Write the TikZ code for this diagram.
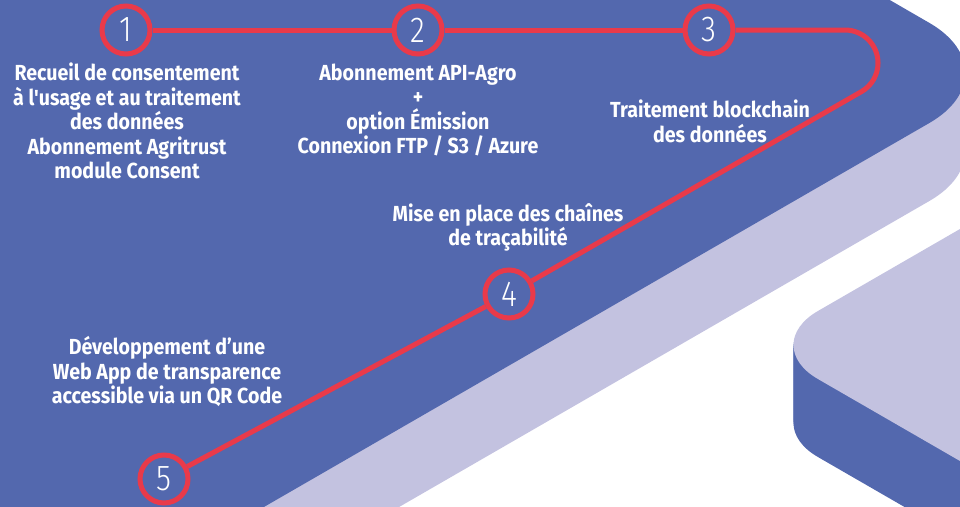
\documentclass[tikz,border=0pt]{standalone}
\usepackage{fontspec}
\newfontfamily\txtfont{Fira Sans}[FakeStretch=0.9, Ligatures=TeXOff]
\newfontfamily\numfont{Fira Sans Light}[FakeStretch=0.85]
\definecolor{bluef}{RGB}{83,104,174}
\definecolor{lav}{RGB}{195,194,224}
\definecolor{redl}{RGB}{233,58,74}
\tikzset{
  stepnum/.style={circle, draw=redl, line width=5pt, fill=bluef, minimum size=48pt, inner sep=0pt,
    text=white, font=\numfont\fontsize{36}{36}\selectfont},
  txt/.style={text=white, align=center, inner sep=0pt, font=\txtfont\bfseries\fontsize{21.8}{24.5}\selectfont},
  redline/.style={draw=redl, line width=5pt}
}
\begin{document}
\begin{tikzpicture}[x=1pt,y=-1pt]
\useasboundingbox (0,0) rectangle (960,506);
\clip (0,0) rectangle (960,506);
% big block: lavender extrusion then blue top face
\foreach \d in {78,76,...,2}{
  \fill[lav, rounded corners=100pt] (-100,-60+\d) -- (786,-60+\d) -- (1016,73+\d) -- (-100,717+\d) -- cycle;
}
\fill[bluef, rounded corners=100pt] (-100,-60) -- (786,-60) -- (1016,73) -- (-100,717) -- cycle;
% lower right block: blue extrusion then lavender top face
\foreach \d in {78,76,...,2}{
  \fill[bluef, rounded corners=68pt] (1200,90.5+\d) -- (759,345+\d) -- (1200,599.5+\d) -- cycle;
}
\fill[lav, rounded corners=68pt] (1200,90.5) -- (759,345) -- (1200,599.5) -- cycle;
% steps
\node[stepnum] (c1) at (126,30) {1};
\node[stepnum] (c2) at (418,30) {2};
\node[stepnum] (c3) at (709,30) {3};
\node[stepnum] (c4) at (509,294) {4};
\node[stepnum] (c5) at (164,479) {5};
\coordinate (turn) at (845,30);
\draw[redline] (c1) -- (c2);
\draw[redline] (c2) -- (c3);
\draw[redline] (c3) -- (turn) arc[start angle=90, end angle=-60, radius=33pt] -- (c4);
\draw[redline] (c4) -- (c5);
% texts
\node[txt] (t1) at (127,121) {Recueil de consentement\\à l'usage et au traitement\\des données\\Abonnement Agritrust\\module Consent};
\node[txt] (t2) at (418,110) {Abonnement API-Agro\\+\\option Émission\\Connexion FTP / S3 / Azure};
\node[txt] (t3) at (710,121.5) {Traitement blockchain\\des données};
\node[txt] (t4) at (508,227.5) {Mise en place des chaînes\\de traçabilité};
\node[txt] (t5) at (167,371.5) {Développement d’une\\Web App de transparence\\accessible via un QR Code};
\end{tikzpicture}
\end{document}
